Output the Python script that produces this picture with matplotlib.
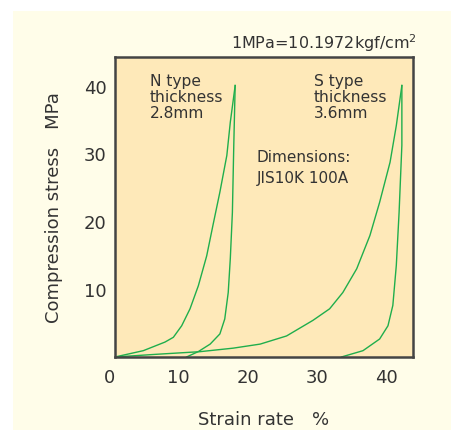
import matplotlib.pyplot as plt
import matplotlib.transforms as mtransforms
from matplotlib.patches import Rectangle

# curves (strain %, stress MPa)
n_load_x = [0, 4.07, 7.2, 8.4, 9.6, 10.8, 12.0, 13.2, 14.1, 15.1, 16.1, 16.6, 17.3]
n_load_y = [0, 0.93, 2.2, 2.9, 4.6, 7.1, 10.5, 14.9, 19.4, 24.3, 29.7, 34.6, 40]
n_unload_x = [17.3, 17.1, 16.9, 16.6, 16.3, 15.8, 15.1, 13.7, 12.0, 10.3]
n_unload_y = [40, 31.2, 21.3, 14.5, 9.5, 5.6, 3.4, 1.9, 0.8, 0]
s_load_x = [0, 6.0, 12.2, 17.0, 20.9, 24.7, 28.5, 30.9, 32.8, 34.8, 36.7, 38.1, 39.6, 40.5, 41.3]
s_load_y = [0, 0.4, 0.78, 1.3, 1.9, 3.1, 5.4, 7.1, 9.5, 13.0, 17.9, 22.8, 28.7, 34.1, 40]
s_unload_x = [41.3, 41.3, 40.9, 40.5, 40.0, 39.3, 38.1, 35.7, 32.6]
s_unload_y = [40, 31.2, 21.3, 13.5, 7.6, 4.6, 2.65, 0.93, 0]

x_ticks = [0, 10, 20, 30, 40]
y_ticks = [10, 20, 30, 40]

green = '#1fae4c'
txt = '#333333'
fig = plt.figure(figsize=(4.51, 4.31), dpi=100)
fig.patches.append(Rectangle((13 / 451, 0), 1, 1 - 12 / 431, transform=fig.transFigure,
                             facecolor='#fffde9', edgecolor='none', zorder=-10))

ax = fig.add_axes([0.255, 0.1694, 0.6607, 0.696])
ax.set_facecolor('#fee9b9')
for sp in ax.spines.values():
    sp.set_color('#444444')
    sp.set_linewidth(1.8)

ax.plot(n_load_x, n_load_y, color=green, lw=1.0)
ax.plot(n_unload_x, n_unload_y, color=green, lw=1.0)
ax.plot(s_load_x, s_load_y, color=green, lw=1.0)
ax.plot(s_unload_x, s_unload_y, color=green, lw=1.0)

ax.set_xlim(0, 42.9)
ax.set_ylim(0, 44.2)
ax.set_xticks(x_ticks)
ax.set_yticks(y_ticks)
ax.tick_params(length=0, labelsize=13, labelcolor=txt)
ax.tick_params(axis='x', pad=8)
ax.tick_params(axis='y', pad=6)
shift = mtransforms.ScaledTranslation(-6 / 100, 0, fig.dpi_scale_trans)
for lab in ax.get_xticklabels():
    lab.set_transform(lab.get_transform() + shift)

ax.set_xlabel('Strain rate\u2003%', fontsize=13, color=txt, labelpad=17)
ax.set_ylabel('Compression stress\u2003MPa', fontsize=13, color=txt, labelpad=15)

tkw = dict(fontsize=11.2, color=txt, va='top', ha='left', linespacing=1.08)
ax.text(5.0, 41.9, 'N type\nthickness\n2.8mm', **tkw)
ax.text(28.6, 41.9, 'S type\nthickness\n3.6mm', **tkw)
ax.text(20.4, 30.6, 'Dimensions:\nJIS10K 100A', fontsize=11, color=txt,
        va='top', ha='left', linespacing=1.45)

fig.text(417 / 451, 1 - 43 / 431, '1MPa=10.1972kgf/cm$^2$', fontsize=11.5,
         color=txt, ha='right', va='center')

fig.savefig('out.png', dpi=100)
